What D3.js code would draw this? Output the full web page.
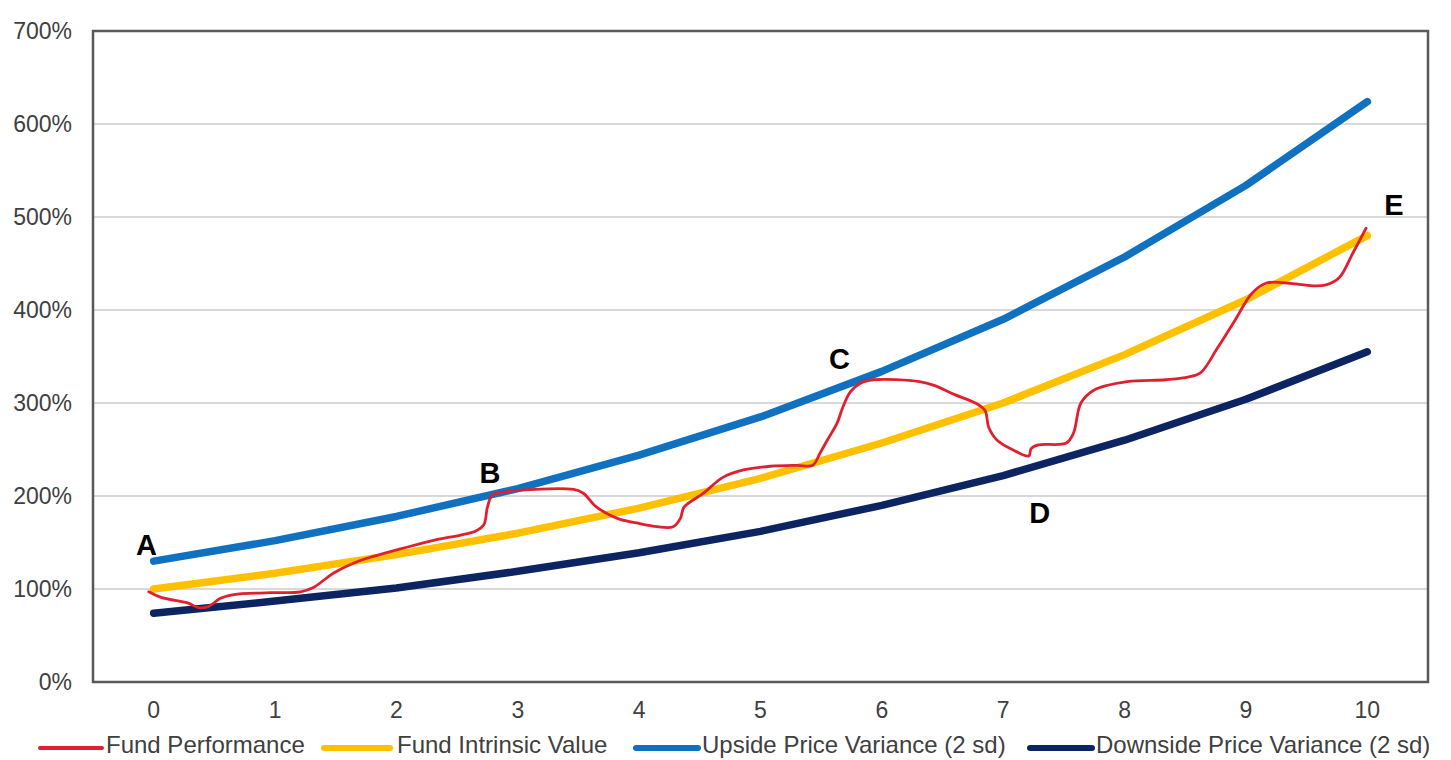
<!DOCTYPE html>
<html>
<head>
<meta charset="utf-8">
<script src="https://cdn.jsdelivr.net/npm/d3@7"></script>
<style>
  html, body { margin: 0; padding: 0; background: #ffffff; }
  svg { display: block; font-family: "Liberation Sans", Arial, sans-serif; }
</style>
</head>
<body>
<svg id="chart" width="1451" height="760"></svg>
<script>
// Years on the category axis
const years = [0, 1, 2, 3, 4, 5, 6, 7, 8, 9, 10];

// Annual series, in percent
const intrinsicValue = [100, 117, 137, 160, 187, 219, 257, 300, 352, 411, 480];
const upsideVariance = [130, 152, 178, 208, 244, 285, 334, 390, 457, 534, 624];
const downsideVariance = [74, 87, 101, 119, 139, 162, 190, 222, 260, 304, 355];

// Fund performance path: time (years), value (percent)
const perfTime = [-0.04, 0.06, 0.28, 0.37, 0.45, 0.55, 0.66, 0.96, 1.21, 1.32, 1.48, 1.65, 1.81,
  2.06, 2.33, 2.53, 2.65, 2.72, 2.75, 2.79, 2.88, 3.0, 3.46, 3.54, 3.65, 3.82, 3.98, 4.15,
  4.28, 4.34, 4.37, 4.53, 4.69, 4.86, 5.08, 5.30, 5.43, 5.49, 5.55, 5.63, 5.68, 5.74, 5.82,
  5.93, 6.31, 6.43, 6.60, 6.77, 6.85, 6.88, 6.95, 7.09, 7.21, 7.23, 7.29, 7.52, 7.58, 7.64,
  7.75, 8.02, 8.34, 8.53, 8.63, 8.76, 8.91, 9.05, 9.17, 9.34, 9.55, 9.66, 9.77, 9.88, 9.99];
const perfValue = [97, 91, 85, 80, 81, 90, 94, 96, 97, 102, 117, 128, 135,
  144, 153, 158, 162, 169, 188, 201, 204, 206, 207, 203, 188, 176, 171, 167,
  167, 176, 188, 203, 220, 228, 232, 233, 233, 246, 260, 278, 296, 312, 321,
  325, 323, 319, 309, 300, 292, 274, 260, 249, 243, 251, 255, 257, 268, 300,
  314, 323, 325, 328, 333, 358, 389, 418, 429, 429, 426, 427, 435, 461, 488];

// Axis ticks
const yTicks = [0, 100, 200, 300, 400, 500, 600, 700];

// Point annotations
const noteLabels = ["A", "B", "C", "D", "E"];
const noteTime = [-0.06, 2.77, 5.65, 7.30, 10.22];
const noteValue = [137, 214, 337, 171, 502];

// Legend entries
const legendNames = ["Fund Performance", "Fund Intrinsic Value", "Upside Price Variance (2 sd)", "Downside Price Variance (2 sd)"];
const legendColors = ["#e0202f", "#ffc000", "#0f71bf", "#0c2461"];

const svg = d3.select("#chart");
const plot = { left: 93, top: 31, right: 1428, bottom: 682 };

// Category band centres map years to x
const band = d3.scaleBand().domain(years).range([plot.left, plot.right]).paddingInner(0).paddingOuter(0);
const x = d3.scaleLinear()
  .domain([0, 10])
  .range([band(0) + band.bandwidth() / 2, band(10) + band.bandwidth() / 2]);
const y = d3.scaleLinear().domain([0, 700]).range([plot.bottom, plot.top]);

// Horizontal gridlines
svg.append("g")
  .selectAll("line")
  .data(yTicks.filter(d => d > 0 && d < 700))
  .join("line")
  .attr("x1", plot.left).attr("x2", plot.right)
  .attr("y1", d => y(d)).attr("y2", d => y(d))
  .attr("stroke", "#d9d9d9").attr("stroke-width", 2);

// Y axis labels
const yAxis = d3.axisLeft(y).tickValues(yTicks).tickSize(0).tickPadding(21)
  .tickFormat(d => d + "%");
svg.append("g")
  .attr("transform", `translate(${plot.left},0)`)
  .call(yAxis)
  .call(g => g.select(".domain").remove())
  .call(g => g.selectAll("text")
    .attr("font-size", 23).attr("fill", "#404040")
    .attr("font-family", "'Liberation Sans', Arial, sans-serif"));

// X axis labels
const xAxis = d3.axisBottom(band).tickSize(0).tickPadding(20);
svg.append("g")
  .attr("transform", `translate(0,${plot.bottom})`)
  .call(xAxis)
  .call(g => g.select(".domain").remove())
  .call(g => g.selectAll("text")
    .attr("font-size", 23).attr("fill", "#404040")
    .attr("font-family", "'Liberation Sans', Arial, sans-serif"));

// Plot frame
svg.append("rect")
  .attr("x", plot.left).attr("y", plot.top)
  .attr("width", plot.right - plot.left).attr("height", plot.bottom - plot.top)
  .attr("fill", "none").attr("stroke", "#595959").attr("stroke-width", 2.5);

// Annual series lines
const annualLine = d3.line().x((d, i) => x(years[i])).y(d => y(d));
const bands = [
  { data: downsideVariance, color: legendColors[3] },
  { data: upsideVariance, color: legendColors[2] },
  { data: intrinsicValue, color: legendColors[1] }
];
svg.append("g")
  .selectAll("path")
  .data(bands)
  .join("path")
  .attr("d", d => annualLine(d.data))
  .attr("fill", "none")
  .attr("stroke", d => d.color)
  .attr("stroke-width", 7.5)
  .attr("stroke-linecap", "round")
  .attr("stroke-linejoin", "round");

// Fund performance path
const perf = perfTime.map((t, i) => [t, perfValue[i]]);
svg.append("path")
  .datum(perf)
  .attr("d", d3.line().x(d => x(d[0])).y(d => y(d[1])).curve(d3.curveCatmullRom.alpha(0.5)))
  .attr("fill", "none")
  .attr("stroke", legendColors[0])
  .attr("stroke-width", 2.8)
  .attr("stroke-linejoin", "round")
  .attr("stroke-linecap", "round");

// Point annotations
svg.append("g")
  .selectAll("text")
  .data(noteLabels)
  .join("text")
  .attr("x", (d, i) => x(noteTime[i]))
  .attr("y", (d, i) => y(noteValue[i]))
  .attr("text-anchor", "middle")
  .attr("font-size", 29)
  .attr("font-weight", "bold")
  .attr("fill", "#000000")
  .text(d => d);

// Legend: swatch start, swatch length, label start
const legendLineX = [40, 324, 636, 1030];
const legendLineLen = [62, 66, 62, 62];
const legendTextX = [106, 397, 702, 1096];
const legendY = 748;
const lg = svg.append("g");
legendNames.forEach((name, i) => {
  lg.append("line")
    .attr("x1", legendLineX[i]).attr("x2", legendLineX[i] + legendLineLen[i])
    .attr("y1", legendY).attr("y2", legendY)
    .attr("stroke", legendColors[i])
    .attr("stroke-width", i === 0 ? 4 : 6)
    .attr("stroke-linecap", "round");
  lg.append("text")
    .attr("x", legendTextX[i])
    .attr("y", legendY + 5)
    .attr("font-size", 24)
    .attr("fill", "#404040")
    .text(name);
});
</script>
</body>
</html>
